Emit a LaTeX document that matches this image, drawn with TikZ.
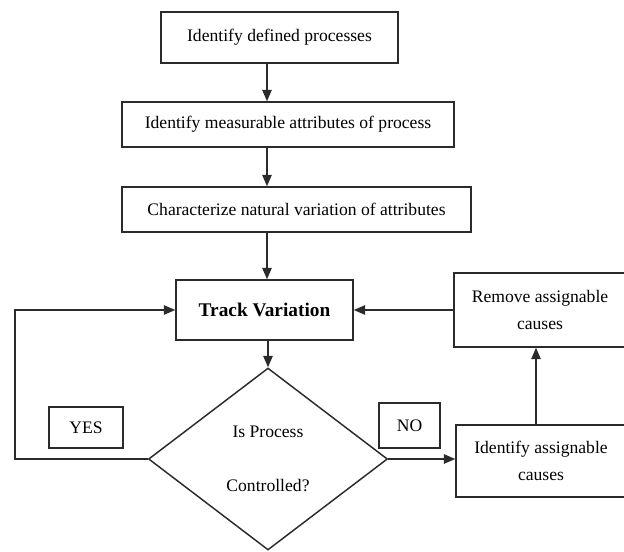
\documentclass[tikz,border=0pt]{standalone}
\usepackage{fontspec}
\setmainfont{Liberation Serif}
\usetikzlibrary{arrows.meta,positioning,shapes.geometric}
\definecolor{fcink}{HTML}{2B2B2B}

\begin{document}
\begin{tikzpicture}[
        x=0.75pt, y=-0.75pt,
        font=\fontsize{13.2}{15}\selectfont,
        pbox/.style={draw=fcink, line width=1.1pt, fill=white,
                     align=center, inner sep=2pt},
        tagbox/.style={pbox},
        decide/.style={pbox, diamond, inner sep=0pt},
        arr/.style={-{Triangle[length=8.5pt,width=7pt]}, fcink, line width=1.1pt}
    ]
        \useasboundingbox (0,0) rectangle (624,551);
        \coordinate (spine) at (267,0);
        \coordinate (loop) at (15,0);
        \coordinate (rise) at (536,0);
        \node[pbox, minimum width=177.75pt, minimum height=38.25pt]
            (defined) at (279.5,37.5) {Identify defined processes};
        \node[pbox, minimum width=249pt, minimum height=33.75pt]
            (measure) at (288,124.5) {Identify measurable attributes of process};
        \node[pbox, minimum width=261.75pt, minimum height=33.75pt]
            (natural) at (296.5,209.5) {Characterize natural variation of attributes};
        \node[pbox, minimum width=132.75pt, minimum height=45pt,
              font=\fontsize{14.5}{17}\selectfont\bfseries]
            (track) at (264.5,310) {Track Variation};
        \node[pbox, minimum width=129pt, minimum height=55.5pt]
            (remove) at (540,310) {Remove assignable\\[5pt]causes};
        \node[decide, minimum width=179.25pt, minimum height=136.5pt]
            (control) at (268,459) {Is Process\\[25pt]Controlled?};
        \node[pbox, minimum width=127.5pt, minimum height=54pt]
            (assign) at (541,461) {Identify assignable\\[5pt]causes};
        \node[tagbox, minimum width=55.5pt, minimum height=30.75pt]
            (yes) at (86,427.5) {YES};
        \node[tagbox, minimum width=45.75pt, minimum height=33.75pt]
            (no) at (409.5,425.5) {NO};
        \draw[arr] (defined.south -| spine) -- (measure.north -| spine);
        \draw[arr] (measure.south -| spine) -- (natural.north -| spine);
        \draw[arr] (natural.south -| spine) -- (track.north -| spine);
        \draw[arr] (track.south -| control.north) -- (control.north);
        \draw[arr] (control.west) -- (control.west -| loop) |- (track.west);
        \draw[arr] (control.east) -- (control.east -| assign.west);
        \draw[arr] (assign.north -| rise) -- (remove.south -| rise);
        \draw[arr] (remove.west) -- (track.east);
    \end{tikzpicture}
\end{document}
